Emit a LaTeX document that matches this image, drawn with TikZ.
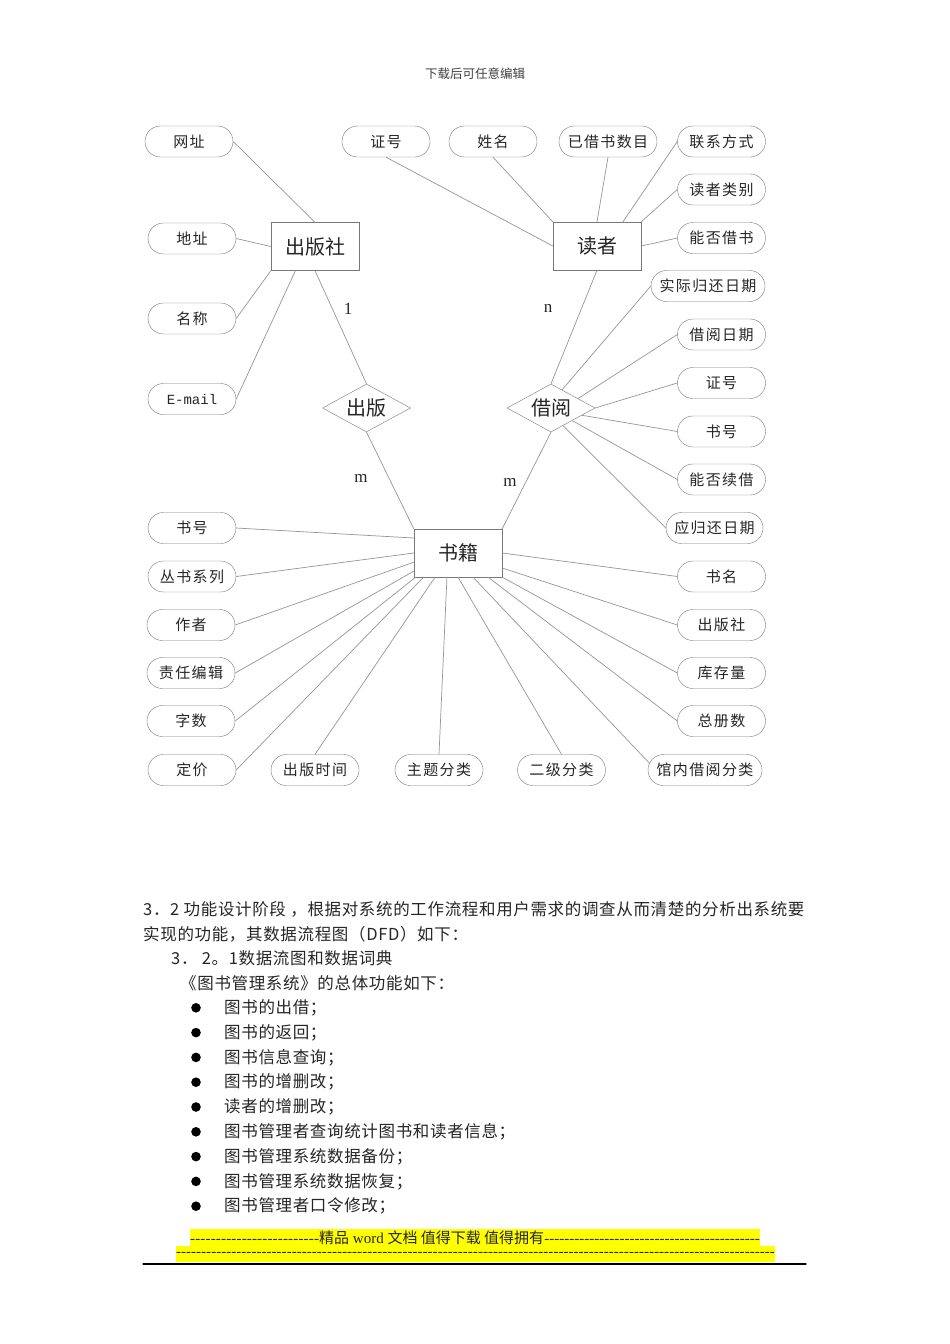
\documentclass[tikz,border=0pt]{standalone}
\usepackage{fontspec}
\setmainfont{Liberation Serif}
\newfontfamily\cjk{Noto Sans CJK SC}
\newfontfamily\cjkpara[LetterSpace=4]{Noto Sans CJK SC}
\newfontfamily\cjkattr[LetterSpace=9]{Noto Sans CJK SC}
\newfontfamily\mailfont{Liberation Mono}
\usetikzlibrary{shapes.misc,shapes.geometric,calc}
\definecolor{linegray}{RGB}{150,150,150}
\definecolor{boxgray}{RGB}{120,120,120}
\definecolor{hlyellow}{RGB}{255,255,0}
\newcommand\dashrun[1]{\xleaders\hbox{-}\hskip 0pt plus #1fill}

\tikzset{
  attr/.style={draw=boxgray,rounded rectangle,minimum width=88pt,minimum height=31pt,inner sep=0pt,font=\cjkattr\fontsize{15}{15}\selectfont},
  entity/.style={draw=boxgray,rectangle,minimum width=88pt,minimum height=48pt,inner sep=0pt,font=\cjk\fontsize{20}{20}\selectfont},
  rel/.style={draw=boxgray,diamond,aspect=1.83,minimum width=88pt,minimum height=48pt,inner sep=0pt,font=\cjk\fontsize{20}{20}\selectfont},
  card/.style={inner sep=0pt,font=\fontsize{17}{17}\selectfont},
  link/.style={draw=linegray,line width=0.7pt},
  para/.style={anchor=west,inner sep=0pt,font=\cjkpara\fontsize{16.5}{16.5}\selectfont},
  foot/.style={inner sep=0pt,font=\fontsize{15}{15}\selectfont}
}

\begin{document}
\begin{tikzpicture}[x=1pt,y=-1pt,line cap=round,text=black!85]
\fill[white] (0,0) rectangle (950,1344);
\node[font=\cjk\fontsize{12.5}{12.5}\selectfont,text=black!75] (hdr) at (475,74) {下载后可任意编辑};

% publisher
\node[entity] (press) at (315,246.5) {出版社};
\node[attr] (pwz) at (189,141.5) {网址};
\node[attr] (pdz) at (192,238.5) {地址};
\node[attr] (pmc) at (192,318.5) {名称};
\node[attr,font=\mailfont\fontsize{14}{14}\selectfont] (pem) at (192,399) {E-mail};
\node[rel] (publish) at (366.5,408) {出版};
\draw[link] (pwz.east) -- (press.north);
\draw[link] (pdz.east) -- (press.west);
\draw[link] (pmc.east) -- (press.south west);
\draw[link] (pem.east) -- (press.231);

% reader
\node[entity] (reader) at (597,246) {读者};
\node[attr] (rzh) at (386,141.5) {证号};
\node[attr] (rxm) at (493,141.5) {姓名};
\node[attr,minimum width=98pt] (rjs) at (608,141.5) {已借书数目};
\node[attr] (rlx) at (721.5,141.5) {联系方式};
\node[attr] (rlb) at (721.5,189.5) {读者类别};
\node[attr] (rnj) at (721.5,238) {能否借书};
\draw[link] (rzh.south) -- (reader.west);
\draw[link] (rxm.south) -- (reader.north west);
\draw[link] (rjs.south) -- (reader.north);
\draw[link] (rlx.west) -- (reader.43);
\draw[link] (rlb.west) -- (reader.north east);
\draw[link] (rnj.west) -- (reader.east);

% borrow
\node[rel] (borrow) at (551,408) {借阅};
\node[attr,minimum width=114pt] (bsj) at (708,286) {实际归还日期};
\node[attr] (brq) at (721.5,334.5) {借阅日期};
\node[attr] (bzh) at (721.5,383) {证号};
\node[attr] (bsh) at (721.5,431.5) {书号};
\node[attr] (bxj) at (721.5,479.5) {能否续借};
\node[attr,minimum width=97pt] (byh) at (714.5,528) {应归还日期};
\draw[link] (bsj.west) -- ($(borrow.north)!0.25!(borrow.east)$);
\draw[link] (brq.west) -- ($(borrow.north)!0.61!(borrow.east)$);
\draw[link] (bzh.west) -- (borrow.east);
\draw[link] (bsh.west) -- ($(borrow.east)!0.3!(borrow.south)$);
\draw[link] (bxj.west) -- ($(borrow.east)!0.52!(borrow.south)$);
\draw[link] (byh.west) -- ($(borrow.east)!0.73!(borrow.south)$);

% book
\node[entity] (book) at (458,553) {书籍};
\node[attr] (ksh) at (192,528) {书号};
\node[attr] (kcs) at (192,576.5) {丛书系列};
\node[attr] (kzz) at (191,625) {作者};
\node[attr] (kzr) at (191,673) {责任编辑};
\node[attr] (kzs) at (191,721) {字数};
\node[attr] (kdj) at (192,770) {定价};
\node[attr] (ksj) at (315,770) {出版时间};
\node[attr] (kzt) at (439,770) {主题分类};
\node[attr] (kej) at (561.5,770) {二级分类};
\node[attr,minimum width=114pt] (kgn) at (705,770) {馆内借阅分类};
\node[attr] (ksm) at (721.5,576.5) {书名};
\node[attr] (kcb) at (721.5,625) {出版社};
\node[attr] (kkc) at (721.5,673) {库存量};
\node[attr] (kzc) at (721.5,721) {总册数};
\draw[link] (ksh.east) -- ($(book.north west)!0.19!(book.south west)$);
\draw[link] (kcs.east) -- (book.west);
\draw[link] (kzz.east) -- ($(book.north west)!0.69!(book.south west)$);
\draw[link] (kzr.east) -- ($(book.north west)!0.875!(book.south west)$);
\draw[link] (kzs.east) -- ($(book.south west)!0.02!(book.south east)$);
\draw[link] (kdj.east) -- ($(book.south west)!0.11!(book.south east)$);
\draw[link] (ksj.north) -- ($(book.south west)!0.24!(book.south east)$);
\draw[link] (kzt.north) -- ($(book.south west)!0.375!(book.south east)$);
\draw[link] (kej.north) -- (book.south);
\draw[link] (kgn.173) -- ($(book.south west)!0.67!(book.south east)$);
\draw[link] (kzc.west) -- ($(book.south west)!0.84!(book.south east)$);
\draw[link] (kkc.west) -- (book.south east);
\draw[link] (kcb.west) -- ($(book.north east)!0.81!(book.south east)$);
\draw[link] (ksm.west) -- (book.east);

% relationships
\draw[link] (press.south) -- (publish.north);
\draw[link] (publish.south) -- (book.north west);
\draw[link] (reader.south) -- (borrow.north);
\draw[link] (borrow.south) -- (book.north east);
\node[card] (c1) at (348,309) {1};
\node[card] (cn) at (548,308) {n};
\node[card] (cm1) at (361,478) {m};
\node[card] (cm2) at (510,482) {m};

% text below
\node[para] (p1) at (143,909) {3．2 功能设计阶段 ，根据对系统的工作流程和用户需求的调查从而清楚的分析出系统要};
\node[para] (p2) at (143,934) {实现的功能，其数据流程图（DFD）如下：};
\node[para] (p3) at (171,958) {3． 2。1数据流图和数据词典};
\node[para] (p4) at (180,983) {《图书管理系统》的总体功能如下：};
\foreach \t [count=\k] in {图书的出借；,图书的返回；,图书信息查询；,图书的增删改；,读者的增删改；,图书管理者查询统计图书和读者信息；,图书管理系统数据备份；,图书管理系统数据恢复；,图书管理者口令修改；}{
  \fill (196,983+24.8*\k) circle (4.8);
  \node[para] (item\k) at (224,983+24.8*\k) {\t};
}

% footer
\fill[hlyellow] (190,1229) rectangle (760,1245.5);
\fill[hlyellow] (176,1245.5) rectangle (775,1262);
\node[foot] (ft1) at (475,1237.5) {\hbox to 570pt{\dashrun{1}{\cjk 精品} word {\cjk 文档 值得下载 值得拥有}\dashrun{1.67}}};
\node[foot] (ft2) at (475.5,1254) {\hbox to 599pt{\dashrun{1}}};
\draw[line width=1.3pt] (143,1264) -- (806,1264);
\end{tikzpicture}
\end{document}
